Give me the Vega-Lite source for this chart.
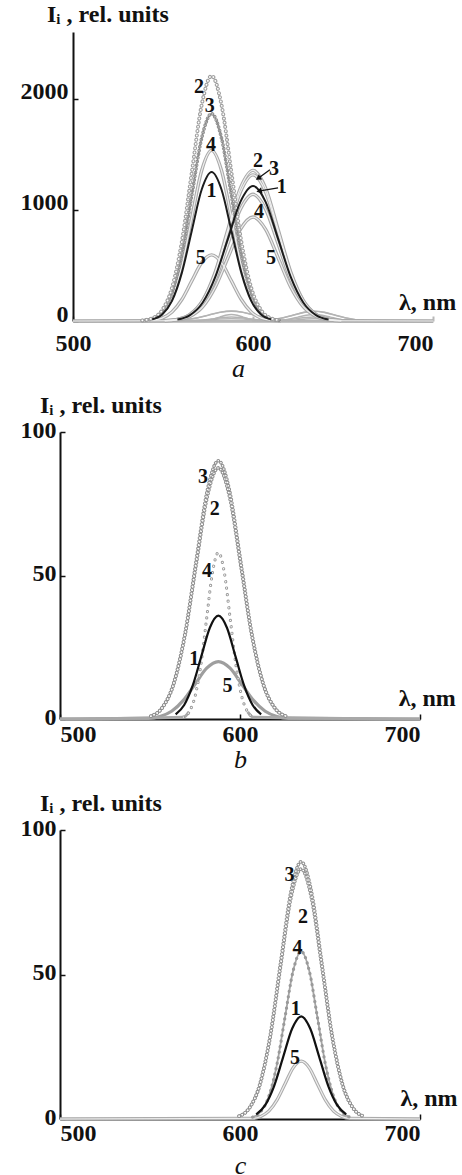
{
"$schema": "https://vega.github.io/schema/vega-lite/v6.json",
"background": "white",
"padding": {"left": 20, "top": 3, "right": 0, "bottom": 0},
"config": {
 "view": {"stroke": null},
 "axis": {"grid": false, "labelFont": "Liberation Serif", "labelFontSize": 24, "labelFontWeight": "bold", "labelColor": "#111", "domainColor": "#111", "domainWidth": 2, "tickColor": "#111", "tickWidth": 1.5, "tickSize": -5, "titleFont": "Liberation Serif", "titleFontSize": 26, "titleFontWeight": "normal", "titleFontStyle": "italic", "titleColor": "#111", "labelOverlap": false, "format": "d"},
 "title": {"font": "Liberation Serif", "fontSize": 24, "fontWeight": "bold", "color": "#111", "anchor": "start", "frame": "group"},
 "line": {"interpolate": "monotone"},
 "text": {"font": "Liberation Serif", "fontWeight": "bold", "color": "#111"}
},
"datasets": {
"a": [
{"k":"L2","x":538.5,"y":4.9},{"k":"L2","x":544,"y":24.5},{"k":"L2","x":549.5,"y":96.8},{"k":"L2","x":555,"y":298.3},{"k":"L2","x":560.5,"y":716},{"k":"L2","x":566,"y":1337.3},{"k":"L2","x":571.5,"y":1945.9},{"k":"L2","x":577,"y":2205},{"k":"L2","x":582.5,"y":1945.9},{"k":"L2","x":588,"y":1337.3},{"k":"L2","x":593.5,"y":716},{"k":"L2","x":599,"y":298.3},{"k":"L2","x":604.5,"y":96.8},{"k":"L2","x":610,"y":24.5},{"k":"L2","x":615.5,"y":4.9},
{"k":"L3","x":538.5,"y":4.1},{"k":"L3","x":544,"y":20.7},{"k":"L3","x":549.5,"y":81.9},{"k":"L3","x":555,"y":252.3},{"k":"L3","x":560.5,"y":605.6},{"k":"L3","x":566,"y":1131.1},{"k":"L3","x":571.5,"y":1645.9},{"k":"L3","x":577,"y":1865},{"k":"L3","x":582.5,"y":1645.9},{"k":"L3","x":588,"y":1131.1},{"k":"L3","x":593.5,"y":605.6},{"k":"L3","x":599,"y":252.3},{"k":"L3","x":604.5,"y":81.9},{"k":"L3","x":610,"y":20.7},{"k":"L3","x":615.5,"y":4.1},
{"k":"L4","x":538.5,"y":3.4},{"k":"L4","x":544,"y":17},{"k":"L4","x":549.5,"y":67.4},{"k":"L4","x":555,"y":207.7},{"k":"L4","x":560.5,"y":498.4},{"k":"L4","x":566,"y":931},{"k":"L4","x":571.5,"y":1354.6},{"k":"L4","x":577,"y":1535},{"k":"L4","x":582.5,"y":1354.6},{"k":"L4","x":588,"y":931},{"k":"L4","x":593.5,"y":498.4},{"k":"L4","x":599,"y":207.7},{"k":"L4","x":604.5,"y":67.4},{"k":"L4","x":610,"y":17},{"k":"L4","x":615.5,"y":3.4},
{"k":"L1","x":538.5,"y":2.9},{"k":"L1","x":544,"y":14.9},{"k":"L1","x":549.5,"y":58.8},{"k":"L1","x":555,"y":181.3},{"k":"L1","x":560.5,"y":435.1},{"k":"L1","x":566,"y":812.7},{"k":"L1","x":571.5,"y":1182.6},{"k":"L1","x":577,"y":1340},{"k":"L1","x":582.5,"y":1182.6},{"k":"L1","x":588,"y":812.7},{"k":"L1","x":593.5,"y":435.1},{"k":"L1","x":599,"y":181.3},{"k":"L1","x":604.5,"y":58.8},{"k":"L1","x":610,"y":14.9},{"k":"L1","x":615.5,"y":2.9},
{"k":"L5","x":538.5,"y":1.3},{"k":"L5","x":544,"y":6.6},{"k":"L5","x":549.5,"y":26.1},{"k":"L5","x":555,"y":80.5},{"k":"L5","x":560.5,"y":193.2},{"k":"L5","x":566,"y":360.9},{"k":"L5","x":571.5,"y":525.1},{"k":"L5","x":577,"y":595},{"k":"L5","x":582.5,"y":525.1},{"k":"L5","x":588,"y":360.9},{"k":"L5","x":593.5,"y":193.2},{"k":"L5","x":599,"y":80.5},{"k":"L5","x":604.5,"y":26.1},{"k":"L5","x":610,"y":6.6},{"k":"L5","x":615.5,"y":1.3},
{"k":"R2","x":551,"y":3},{"k":"R2","x":558,"y":15},{"k":"R2","x":565,"y":59.5},{"k":"R2","x":572,"y":183.3},{"k":"R2","x":579,"y":440},{"k":"R2","x":586,"y":821.8},{"k":"R2","x":593,"y":1195.8},{"k":"R2","x":600,"y":1355},{"k":"R2","x":607,"y":1195.8},{"k":"R2","x":614,"y":821.8},{"k":"R2","x":621,"y":440},{"k":"R2","x":628,"y":183.3},{"k":"R2","x":635,"y":59.5},{"k":"R2","x":642,"y":15},{"k":"R2","x":649,"y":3},
{"k":"R3","x":551,"y":2.9},{"k":"R3","x":558,"y":14.6},{"k":"R3","x":565,"y":57.7},{"k":"R3","x":572,"y":177.9},{"k":"R3","x":579,"y":427},{"k":"R3","x":586,"y":797.5},{"k":"R3","x":593,"y":1160.5},{"k":"R3","x":600,"y":1315},{"k":"R3","x":607,"y":1160.5},{"k":"R3","x":614,"y":797.5},{"k":"R3","x":621,"y":427},{"k":"R3","x":628,"y":177.9},{"k":"R3","x":635,"y":57.7},{"k":"R3","x":642,"y":14.6},{"k":"R3","x":649,"y":2.9},
{"k":"R1","x":551,"y":2.7},{"k":"R1","x":558,"y":13.5},{"k":"R1","x":565,"y":53.3},{"k":"R1","x":572,"y":164.4},{"k":"R1","x":579,"y":394.5},{"k":"R1","x":586,"y":736.9},{"k":"R1","x":593,"y":1072.2},{"k":"R1","x":600,"y":1215},{"k":"R1","x":607,"y":1072.2},{"k":"R1","x":614,"y":736.9},{"k":"R1","x":621,"y":394.5},{"k":"R1","x":628,"y":164.4},{"k":"R1","x":635,"y":53.3},{"k":"R1","x":642,"y":13.5},{"k":"R1","x":649,"y":2.7},
{"k":"R4","x":551,"y":2.5},{"k":"R4","x":558,"y":12.7},{"k":"R4","x":565,"y":50},{"k":"R4","x":572,"y":154.2},{"k":"R4","x":579,"y":370.2},{"k":"R4","x":586,"y":691.4},{"k":"R4","x":593,"y":1006.1},{"k":"R4","x":600,"y":1140},{"k":"R4","x":607,"y":1006.1},{"k":"R4","x":614,"y":691.4},{"k":"R4","x":621,"y":370.2},{"k":"R4","x":628,"y":154.2},{"k":"R4","x":635,"y":50},{"k":"R4","x":642,"y":12.7},{"k":"R4","x":649,"y":2.5},
{"k":"R5","x":500,"y":0},{"k":"R5","x":551,"y":2.1},{"k":"R5","x":558,"y":10.4},{"k":"R5","x":565,"y":41},{"k":"R5","x":572,"y":126.5},{"k":"R5","x":579,"y":303.6},{"k":"R5","x":586,"y":567.1},{"k":"R5","x":593,"y":825.1},{"k":"R5","x":600,"y":935},{"k":"R5","x":607,"y":825.1},{"k":"R5","x":614,"y":567.1},{"k":"R5","x":621,"y":303.6},{"k":"R5","x":628,"y":126.5},{"k":"R5","x":635,"y":41},{"k":"R5","x":642,"y":10.4},{"k":"R5","x":649,"y":2.1},{"k":"R5","x":700,"y":0}
],
"b": [
{"k":"B3","x":550.5,"y":1},{"k":"B3","x":556.75,"y":4},{"k":"B3","x":563,"y":12.2},{"k":"B3","x":569.25,"y":29.2},{"k":"B3","x":575.5,"y":54.6},{"k":"B3","x":581.75,"y":79.4},{"k":"B3","x":588,"y":90},{"k":"B3","x":594.25,"y":79.4},{"k":"B3","x":600.5,"y":54.6},{"k":"B3","x":606.75,"y":29.2},{"k":"B3","x":613,"y":12.2},{"k":"B3","x":619.25,"y":4},{"k":"B3","x":625.5,"y":1},
{"k":"B2","x":550.5,"y":0.97},{"k":"B2","x":556.75,"y":3.8},{"k":"B2","x":563,"y":11.8},{"k":"B2","x":569.25,"y":28.4},{"k":"B2","x":575.5,"y":53.1},{"k":"B2","x":581.75,"y":77.2},{"k":"B2","x":588,"y":87.5},{"k":"B2","x":594.25,"y":77.2},{"k":"B2","x":600.5,"y":53.1},{"k":"B2","x":606.75,"y":28.4},{"k":"B2","x":613,"y":11.8},{"k":"B2","x":619.25,"y":3.8},{"k":"B2","x":625.5,"y":0.97},
{"k":"B4","x":500,"y":0},{"k":"B4","x":568.5,"y":0.64},{"k":"B4","x":571.75,"y":2.5},{"k":"B4","x":575,"y":7.8},{"k":"B4","x":578.25,"y":18.8},{"k":"B4","x":581.5,"y":35.2},{"k":"B4","x":584.75,"y":51.2},{"k":"B4","x":588,"y":58},{"k":"B4","x":591.25,"y":51.2},{"k":"B4","x":594.5,"y":35.2},{"k":"B4","x":597.75,"y":18.8},{"k":"B4","x":601,"y":7.8},{"k":"B4","x":604.25,"y":2.5},{"k":"B4","x":607.5,"y":0.64},{"k":"B4","x":700,"y":0},
{"k":"B1","x":559.5,"y":0.4},{"k":"B1","x":564.25,"y":1.6},{"k":"B1","x":569,"y":4.9},{"k":"B1","x":573.75,"y":11.7},{"k":"B1","x":578.5,"y":21.8},{"k":"B1","x":583.25,"y":31.8},{"k":"B1","x":588,"y":36},{"k":"B1","x":592.75,"y":31.8},{"k":"B1","x":597.5,"y":21.8},{"k":"B1","x":602.25,"y":11.7},{"k":"B1","x":607,"y":4.9},{"k":"B1","x":611.75,"y":1.6},{"k":"B1","x":616.5,"y":0.4},
{"k":"B5","x":500,"y":0},{"k":"B5","x":549,"y":0.22},{"k":"B5","x":555.5,"y":0.88},{"k":"B5","x":562,"y":2.7},{"k":"B5","x":568.5,"y":6.5},{"k":"B5","x":575,"y":12.1},{"k":"B5","x":581.5,"y":17.7},{"k":"B5","x":588,"y":20},{"k":"B5","x":594.5,"y":17.7},{"k":"B5","x":601,"y":12.1},{"k":"B5","x":607.5,"y":6.5},{"k":"B5","x":614,"y":2.7},{"k":"B5","x":620.5,"y":0.88},{"k":"B5","x":627,"y":0.22},{"k":"B5","x":700,"y":0}
],
"c": [
{"k":"C3","x":599.5,"y":1},{"k":"C3","x":605.25,"y":3.9},{"k":"C3","x":611,"y":12},{"k":"C3","x":616.75,"y":28.9},{"k":"C3","x":622.5,"y":54},{"k":"C3","x":628.25,"y":78.5},{"k":"C3","x":634,"y":89},{"k":"C3","x":639.75,"y":78.5},{"k":"C3","x":645.5,"y":54},{"k":"C3","x":651.25,"y":28.9},{"k":"C3","x":657,"y":12},{"k":"C3","x":662.75,"y":3.9},{"k":"C3","x":668.5,"y":1},
{"k":"C2","x":599.5,"y":0.96},{"k":"C2","x":605.25,"y":3.8},{"k":"C2","x":611,"y":11.7},{"k":"C2","x":616.75,"y":28.1},{"k":"C2","x":622.5,"y":52.5},{"k":"C2","x":628.25,"y":76.3},{"k":"C2","x":634,"y":86.5},{"k":"C2","x":639.75,"y":76.3},{"k":"C2","x":645.5,"y":52.5},{"k":"C2","x":651.25,"y":28.1},{"k":"C2","x":657,"y":11.7},{"k":"C2","x":662.75,"y":3.8},{"k":"C2","x":668.5,"y":0.96},
{"k":"C4","x":607,"y":0.64},{"k":"C4","x":611.5,"y":2.5},{"k":"C4","x":616,"y":7.8},{"k":"C4","x":620.5,"y":18.8},{"k":"C4","x":625,"y":35.2},{"k":"C4","x":629.5,"y":51.2},{"k":"C4","x":634,"y":58},{"k":"C4","x":638.5,"y":51.2},{"k":"C4","x":643,"y":35.2},{"k":"C4","x":647.5,"y":18.8},{"k":"C4","x":652,"y":7.8},{"k":"C4","x":656.5,"y":2.5},{"k":"C4","x":661,"y":0.64},
{"k":"C5","x":500,"y":0},{"k":"C5","x":607,"y":0.22},{"k":"C5","x":611.5,"y":0.88},{"k":"C5","x":616,"y":2.7},{"k":"C5","x":620.5,"y":6.5},{"k":"C5","x":625,"y":12.1},{"k":"C5","x":629.5,"y":17.7},{"k":"C5","x":634,"y":20},{"k":"C5","x":638.5,"y":17.7},{"k":"C5","x":643,"y":12.1},{"k":"C5","x":647.5,"y":6.5},{"k":"C5","x":652,"y":2.7},{"k":"C5","x":656.5,"y":0.88},{"k":"C5","x":661,"y":0.22},{"k":"C5","x":700,"y":0},
{"k":"C1","x":604,"y":0.39},{"k":"C1","x":609,"y":1.6},{"k":"C1","x":614,"y":4.8},{"k":"C1","x":619,"y":11.5},{"k":"C1","x":624,"y":21.5},{"k":"C1","x":629,"y":31.3},{"k":"C1","x":634,"y":35.5},{"k":"C1","x":639,"y":31.3},{"k":"C1","x":644,"y":21.5},{"k":"C1","x":649,"y":11.5},{"k":"C1","x":654,"y":4.8},{"k":"C1","x":659,"y":1.6},{"k":"C1","x":664,"y":0.39}
],
"la": [
{"t":"2","x":570,"y":2108},{"t":"3","x":576,"y":1937},{"t":"4","x":576.7,"y":1586},{"t":"1","x":577,"y":1171},{"t":"5","x":571,"y":568},
{"t":"2","x":602.8,"y":1441},{"t":"3","x":611.7,"y":1369},{"t":"1","x":616,"y":1207},{"t":"4","x":603.3,"y":982},{"t":"5","x":610,"y":568},
{"t":"λ, nm","x":697,"y":162}
],
"arr": [
{"n":"3","x":609.4,"y":1360,"x2":603.3,"y2":1288},
{"n":"1","x":613.9,"y":1198,"x2":603.9,"y2":1171}
],
"tips": [
{"n":"3","x":603.3,"y":1288},
{"n":"1","x":603.9,"y":1171}
],
"lb": [
{"t":"3","x":579.4,"y":84.3},{"t":"2","x":586,"y":73},{"t":"4","x":581.7,"y":51.6},{"t":"1","x":574.6,"y":21},{"t":"5","x":593,"y":11.5},
{"t":"λ, nm","x":704,"y":7}
],
"lc": [
{"t":"3","x":627.5,"y":84.5},{"t":"2","x":635,"y":70},{"t":"4","x":632,"y":59.3},{"t":"1","x":631,"y":38},{"t":"5","x":630.5,"y":21},
{"t":"λ, nm","x":705,"y":7}
]
},
"concat": [
{
 "width": 360, "height": 289,
 "title": {"text": "Iᵢ , rel. units", "dx": -13, "offset": 5},
 "encoding": {
  "x": {"field": "x", "type": "quantitative", "scale": {"domain": [500, 700], "nice": false, "zero": false, "range": [13, 373]},
        "axis": {"values": [500, 600, 700], "title": "a", "titleX": 178, "titlePadding": 0, "labelPadding": 15,
                 "labelAlign": {"condition": {"test": "datum.value == 700", "value": "right"}, "value": "center"},
                 "domainColor": "#c4c4c4", "domainWidth": 3, "tickColor": "#b8b8b8", "tickWidth": 2}},
  "y": {"field": "y", "type": "quantitative", "scale": {"domain": [0, 2600], "nice": false, "zero": false},
        "axis": {"values": [0, 1000, 2000], "title": null, "labelBaseline": "alphabetic", "labelPadding": 10, "offset": -13}}
 },
 "layer": [
  {"data": {"name": "b"}, "mark": {"type": "line", "color": "#b4b4b4", "strokeWidth": 1.4}, "encoding": {"detail": {"field": "k"}}},
  {"data": {"name": "c"}, "mark": {"type": "line", "color": "#b4b4b4", "strokeWidth": 1.4}, "encoding": {"detail": {"field": "k"}}},
  {"data": {"name": "a"}, "transform": [{"filter": {"field": "k", "oneOf": ["L4", "L5", "R2", "R3", "R4", "R5"]}}],
   "mark": {"type": "line", "color": "#a9a9a9", "strokeWidth": 3.4}, "encoding": {"detail": {"field": "k"}}},
  {"data": {"name": "a"}, "transform": [{"filter": {"field": "k", "oneOf": ["L4", "L5", "R2", "R3", "R4", "R5"]}}],
   "mark": {"type": "line", "color": "#efefef", "strokeWidth": 1.2}, "encoding": {"detail": {"field": "k"}}},
  {"data": {"name": "a"}, "transform": [{"filter": "datum.k == 'L3'"}],
   "mark": {"type": "line", "color": "#8f8f8f", "strokeWidth": 3.6, "strokeDash": [0.1, 3.6], "strokeCap": "round"}, "encoding": {}},
  {"data": {"name": "a"}, "transform": [{"filter": "datum.k == 'L3'"}],
   "mark": {"type": "line", "color": "#ffffff", "strokeWidth": 1.5, "strokeDash": [0.1, 3.6], "strokeCap": "round"}, "encoding": {}},
  {"data": {"name": "a"}, "transform": [{"filter": "datum.k == 'L3'"}],
   "mark": {"type": "line", "color": "#8a8a8a", "strokeWidth": 1}, "encoding": {}},
  {"data": {"name": "a"}, "transform": [{"filter": "datum.k == 'L2'"}],
   "mark": {"type": "line", "color": "#a0a0a0", "strokeWidth": 4, "strokeDash": [0.1, 4.2], "strokeCap": "round"}, "encoding": {}},
  {"data": {"name": "a"}, "transform": [{"filter": "datum.k == 'L2'"}],
   "mark": {"type": "line", "color": "#ffffff", "strokeWidth": 1.8, "strokeDash": [0.1, 4.2], "strokeCap": "round"}, "encoding": {}},
  {"data": {"name": "a"}, "transform": [{"filter": {"field": "k", "oneOf": ["L1", "R1"]}}, {"filter": "datum.y > 10"}],
   "mark": {"type": "line", "color": "#1c1c1c", "strokeWidth": 2}, "encoding": {"detail": {"field": "k"}}},
  {"data": {"name": "arr"}, "mark": {"type": "rule", "color": "#111", "strokeWidth": 1.3}, "encoding": {"x2": {"field": "x2"}, "y2": {"field": "y2"}}},
  {"data": {"name": "tips"}, "transform": [{"filter": "datum.n == '3'"}], "mark": {"type": "point", "shape": "triangle", "filled": true, "color": "#111", "opacity": 1, "size": 40, "angle": 237}},
  {"data": {"name": "tips"}, "transform": [{"filter": "datum.n == '1'"}], "mark": {"type": "point", "shape": "triangle", "filled": true, "color": "#111", "opacity": 1, "size": 40, "angle": 257}},
  {"data": {"name": "la"}, "transform": [{"filter": "datum.t != 'λ, nm'"}], "mark": {"type": "text", "fontSize": 20, "baseline": "middle", "align": "center"}, "encoding": {"text": {"field": "t"}}},
  {"data": {"name": "la"}, "transform": [{"filter": "datum.t == 'λ, nm'"}], "mark": {"type": "text", "fontSize": 24, "baseline": "middle", "align": "center"}, "encoding": {"text": {"field": "t"}}}
 ]
},
{
 "width": 360, "height": 287,
 "title": {"text": "Iᵢ , rel. units", "dx": -20, "offset": 0},
 "encoding": {
  "x": {"field": "x", "type": "quantitative", "scale": {"domain": [500, 700], "nice": false, "zero": false},
        "axis": {"values": [500, 600, 700], "title": "b", "titlePadding": 0, "labelPadding": 8}},
  "y": {"field": "y", "type": "quantitative", "scale": {"domain": [0, 100], "nice": false, "zero": false},
        "axis": {"values": [0, 50, 100], "title": null, "labelBaseline": "middle", "labelPadding": 9, "labelOffset": -2}}
 },
 "layer": [
  {"data": {"name": "b"}, "transform": [{"filter": "datum.k == 'B5'"}], "mark": {"type": "line", "color": "#9e9e9e", "strokeWidth": 3.2}, "encoding": {}},
  {"data": {"name": "b"}, "transform": [{"filter": "datum.k == 'B4' && datum.x < 572"}], "mark": {"type": "line", "color": "#a8a8a8", "strokeWidth": 3}, "encoding": {}},
  {"data": {"name": "b"}, "transform": [{"filter": "datum.k == 'B4' && datum.x > 603"}], "mark": {"type": "line", "color": "#a8a8a8", "strokeWidth": 3}, "encoding": {}},
  {"data": {"name": "b"}, "transform": [{"filter": "datum.k == 'B4' && datum.x > 560 && datum.x < 610"}], "mark": {"type": "line", "color": "#9a9a9a", "strokeWidth": 3.2, "strokeDash": [0.1, 6.4], "strokeCap": "round"}, "encoding": {}},
  {"data": {"name": "b"}, "transform": [{"filter": "datum.k == 'B4' && datum.x > 560 && datum.x < 610"}], "mark": {"type": "line", "color": "#ffffff", "strokeWidth": 1.3, "strokeDash": [0.1, 6.4], "strokeCap": "round"}, "encoding": {}},
  {"data": {"name": "b"}, "transform": [{"filter": {"field": "k", "oneOf": ["B3", "B2"]}}], "mark": {"type": "line", "color": "#909090", "strokeWidth": 3.6, "strokeDash": [0.1, 3.4], "strokeCap": "round"}, "encoding": {"detail": {"field": "k"}}},
  {"data": {"name": "b"}, "transform": [{"filter": {"field": "k", "oneOf": ["B3", "B2"]}}], "mark": {"type": "line", "color": "#ffffff", "strokeWidth": 1.5, "strokeDash": [0.1, 3.4], "strokeCap": "round"}, "encoding": {"detail": {"field": "k"}}},
  {"data": {"name": "b"}, "transform": [{"filter": "datum.k == 'B1' && datum.y > 0.5"}], "mark": {"type": "line", "color": "#111", "strokeWidth": 2.2}, "encoding": {}},
  {"data": {"name": "lb"}, "transform": [{"filter": "datum.t != 'λ, nm'"}], "mark": {"type": "text", "fontSize": 20, "baseline": "middle", "align": "center"}, "encoding": {"text": {"field": "t"}}},
  {"data": {"name": "lb"}, "transform": [{"filter": "datum.t == 'λ, nm'"}], "mark": {"type": "text", "fontSize": 24, "baseline": "middle", "align": "center"}, "encoding": {"text": {"field": "t"}}}
 ]
},
{
 "width": 360, "height": 289,
 "title": {"text": "Iᵢ , rel. units", "dx": -20, "offset": 0},
 "encoding": {
  "x": {"field": "x", "type": "quantitative", "scale": {"domain": [500, 700], "nice": false, "zero": false},
        "axis": {"values": [500, 600, 700], "title": "c", "titlePadding": 7, "labelPadding": 7}},
  "y": {"field": "y", "type": "quantitative", "scale": {"domain": [0, 100], "nice": false, "zero": false},
        "axis": {"values": [0, 50, 100], "title": null, "labelBaseline": "middle", "labelPadding": 9, "labelOffset": -2}}
 },
 "layer": [
  {"data": {"name": "c"}, "transform": [{"filter": "datum.k == 'C5'"}], "mark": {"type": "line", "color": "#ababab", "strokeWidth": 3.3}, "encoding": {}},
  {"data": {"name": "c"}, "transform": [{"filter": "datum.k == 'C5'"}], "mark": {"type": "line", "color": "#eeeeee", "strokeWidth": 1.2}, "encoding": {}},
  {"data": {"name": "c"}, "transform": [{"filter": "datum.k == 'C4'"}], "mark": {"type": "line", "color": "#a5a5a5", "strokeWidth": 1.8}, "encoding": {}},
  {"data": {"name": "c"}, "transform": [{"filter": "datum.k == 'C4'"}], "mark": {"type": "line", "color": "#9a9a9a", "strokeWidth": 3.2, "strokeDash": [0.1, 5.5], "strokeCap": "round"}, "encoding": {}},
  {"data": {"name": "c"}, "transform": [{"filter": {"field": "k", "oneOf": ["C3", "C2"]}}], "mark": {"type": "line", "color": "#939393", "strokeWidth": 3.6, "strokeDash": [0.1, 3.4], "strokeCap": "round"}, "encoding": {"detail": {"field": "k"}}},
  {"data": {"name": "c"}, "transform": [{"filter": {"field": "k", "oneOf": ["C3", "C2"]}}], "mark": {"type": "line", "color": "#ffffff", "strokeWidth": 1.5, "strokeDash": [0.1, 3.4], "strokeCap": "round"}, "encoding": {"detail": {"field": "k"}}},
  {"data": {"name": "c"}, "transform": [{"filter": "datum.k == 'C1' && datum.y > 0.5"}], "mark": {"type": "line", "color": "#111", "strokeWidth": 2.2}, "encoding": {}},
  {"data": {"name": "lc"}, "transform": [{"filter": "datum.t != 'λ, nm'"}], "mark": {"type": "text", "fontSize": 20, "baseline": "middle", "align": "center"}, "encoding": {"text": {"field": "t"}}},
  {"data": {"name": "lc"}, "transform": [{"filter": "datum.t == 'λ, nm'"}], "mark": {"type": "text", "fontSize": 24, "baseline": "middle", "align": "center"}, "encoding": {"text": {"field": "t"}}}
 ]
}
],
"columns": 1,
"bounds": "flush",
"spacing": 111
}
